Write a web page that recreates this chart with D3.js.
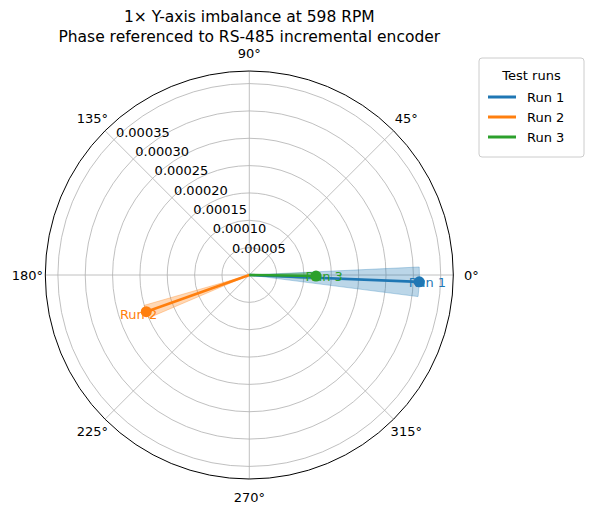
<!DOCTYPE html>
<html><head><meta charset="utf-8">
<script src="https://cdn.jsdelivr.net/npm/d3@7"></script>
<style>body{margin:0;background:#fff}text{font-family:"DejaVu Sans",sans-serif}</style>
</head><body><svg id="c" width="590" height="514"></svg>
<script>
const runs = ["Run 1", "Run 2", "Run 3"];
const colors = ["#1f77b4", "#ff7f0e", "#2ca02c"];
const amplitudes = [0.000311, 0.000200, 0.000122];
const phasesDeg = [-2.3, 199.6, -0.9];
const spreadDeg = [5.0, 3.5, 3.0];
const radialTicks = [0.00005, 0.00010, 0.00015, 0.00020, 0.00025, 0.00030, 0.00035];
const radialTickLabels = ["0.00005", "0.00010", "0.00015", "0.00020", "0.00025", "0.00030", "0.00035"];
const angleTicks = [0, 45, 90, 135, 180, 225, 270, 315];
const rMax = 0.000373;
const titleLines = ["1\u00d7 Y-axis imbalance at 598 RPM", "Phase referenced to RS-485 incremental encoder"];

const svg = d3.select("#c");
const cx = 249.3, cy = 275, R = 204;
const r = d3.scaleLinear().domain([0, rMax]).range([0, R]);
const a = d3.scaleLinear().domain([0, 360]).range([0, 2 * Math.PI]);
const px = (v, deg) => cx + r(v) * Math.cos(a(deg));
const py = (v, deg) => cy - r(v) * Math.sin(a(deg));
const g = svg.append("g");

g.selectAll("circle.grid").data(radialTicks).join("circle")
  .attr("cx", cx).attr("cy", cy).attr("r", d => r(d))
  .attr("fill", "none").attr("stroke", "#b0b0b0").attr("stroke-width", 0.8);
g.selectAll("line.sp").data(angleTicks).join("line")
  .attr("x1", cx).attr("y1", cy).attr("x2", d => px(rMax, d)).attr("y2", d => py(rMax, d))
  .attr("stroke", "#b0b0b0").attr("stroke-width", 0.8);

runs.forEach((name, i) => {
  const steps = d3.range(0, 21).map(k => phasesDeg[i] - spreadDeg[i] + 2 * spreadDeg[i] * k / 20);
  const pts = [[cx, cy]].concat(steps.map(d => [px(amplitudes[i], d), py(amplitudes[i], d)]));
  g.append("path").attr("d", d3.line()(pts) + "Z")
    .attr("fill", colors[i]).attr("fill-opacity", 0.3).attr("stroke", colors[i]).attr("stroke-opacity", 0.3);
});
runs.forEach((name, i) => {
  g.append("line").attr("x1", cx).attr("y1", cy)
    .attr("x2", px(amplitudes[i], phasesDeg[i])).attr("y2", py(amplitudes[i], phasesDeg[i]))
    .attr("stroke", colors[i]).attr("stroke-width", 2.6);
  g.append("circle").attr("cx", px(amplitudes[i], phasesDeg[i])).attr("cy", py(amplitudes[i], phasesDeg[i]))
    .attr("r", 5.5).attr("fill", colors[i]);
  const lr = amplitudes[i] + rMax * 0.04;
  g.append("text").attr("x", px(lr, phasesDeg[i])).attr("y", py(lr, phasesDeg[i]))
    .attr("text-anchor", "middle").attr("dominant-baseline", "central")
    .attr("font-size", 13).attr("fill", colors[i]).text(name);
});

g.append("circle").attr("cx", cx).attr("cy", cy).attr("r", R).attr("fill", "none").attr("stroke", "#000").attr("stroke-width", 1);

g.selectAll("text.rt").data(radialTicks).join("text")
  .attr("x", d => px(d, 135) + 2).attr("y", d => py(d, 135) - 3)
  .attr("font-size", 13).attr("fill", "#000").text((d, i) => radialTickLabels[i]);
g.selectAll("text.at").data(angleTicks).join("text")
  .attr("x", d => cx + (R + 18) * Math.cos(a(d)))
  .attr("y", d => cy - (R + 18) * Math.sin(a(d)))
  .attr("text-anchor", "middle").attr("dominant-baseline", "central")
  .attr("font-size", 13).text(d => d + "\u00b0");

svg.selectAll("text.title").data(titleLines).join("text")
  .attr("x", cx).attr("y", (d, i) => 22 + i * 20).attr("text-anchor", "middle")
  .attr("font-size", 15.5).text(d => d);

const L = svg.append("g").attr("transform", "translate(479,58)");
L.append("rect").attr("width", 105).attr("height", 99).attr("rx", 3)
  .attr("fill", "#fff").attr("stroke", "#ccc");
L.append("text").attr("x", 52.5).attr("y", 22).attr("text-anchor", "middle").attr("font-size", 13).text("Test runs");
runs.forEach((name, i) => {
  const y = 39 + i * 20;
  L.append("line").attr("x1", 9).attr("x2", 37).attr("y1", y).attr("y2", y).attr("stroke", colors[i]).attr("stroke-width", 3);
  L.append("text").attr("x", 48).attr("y", y).attr("dominant-baseline", "central").attr("font-size", 13).text(name);
});
</script></body></html>
